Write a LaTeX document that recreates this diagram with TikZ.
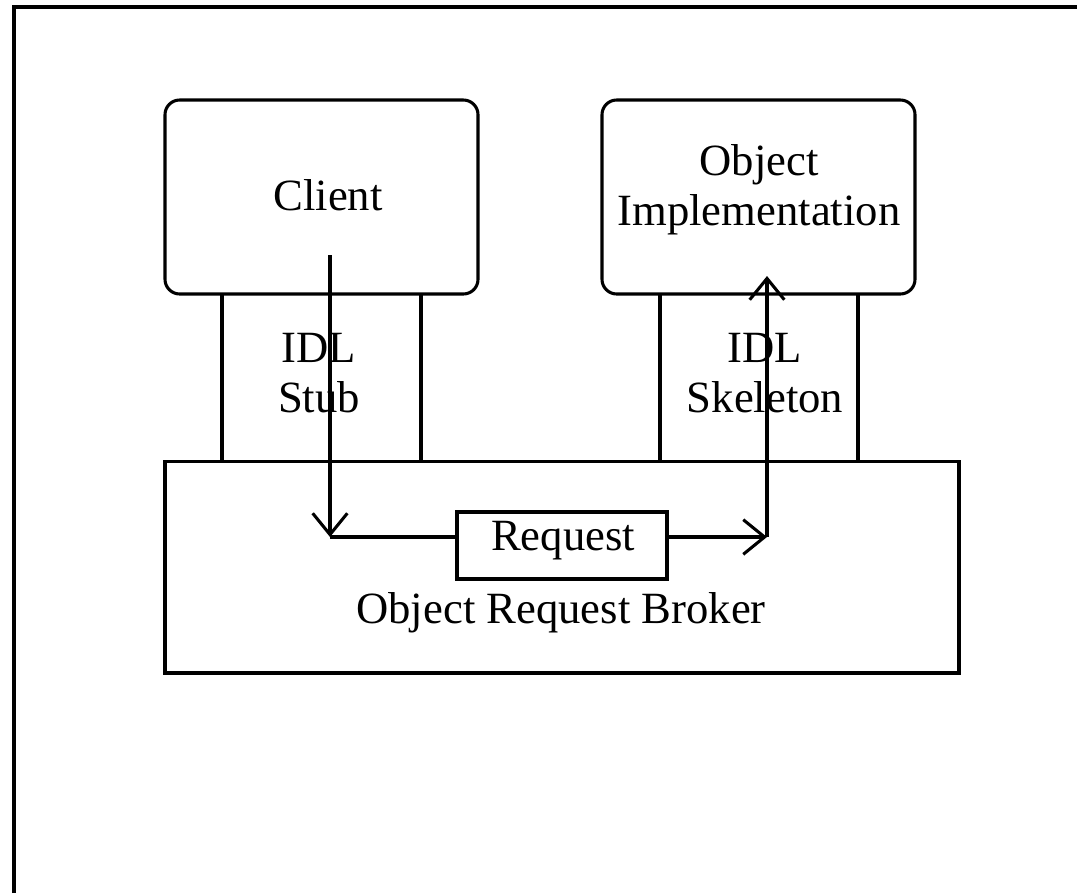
\documentclass[tikz,border=0pt]{standalone}
\usepackage{fontspec}
\setmainfont{Liberation Serif}
\usetikzlibrary{arrows.meta}
\begin{document}
\begin{tikzpicture}[x=0.75pt,y=-0.75pt,
  line width=2.3pt,
  lbl/.style={font=\fontsize{33.5pt}{37.5pt}\selectfont, align=center, inner sep=0pt},
  bigbox/.style={draw, minimum width=313*0.75pt, minimum height=194*0.75pt, rounded corners=11pt, inner sep=0pt},
  arr/.style={-{Straight Barb[length=16pt,width=26pt,line width=2.3pt]}}
]
\useasboundingbox (0,0) rectangle (1077,893);
% outer frame (only top and left edges visible)
\draw[line width=3pt] (14,893) -- (14,7) -- (1077,7);

% main boxes
\node[bigbox] (client) at (321.5,197) {};
\node[lbl] (clientlbl) at (328,195) {Client};
\node[bigbox] (impl) at (758.5,197) {};
\node[lbl] (impllbl) at (759,190) {Object\\Implementation};

\node[draw, line width=2.6pt, minimum width=794*0.75pt, minimum height=211.5*0.75pt, inner sep=0pt] (orb) at (562,567.2) {};
\node[lbl] (orblbl) at (561,613) {Object Request Broker};

\node[draw, line width=2.6pt, minimum width=210*0.75pt, minimum height=67*0.75pt, inner sep=0pt] (req) at (562,545.5) {};
\node[lbl] (reqlbl) at (563,541) {Request};

% stub and skeleton side lines
\coordinate (stubTL) at (222,294);
\coordinate (stubBL) at (222,461.5);
\coordinate (stubTR) at (421,294);
\coordinate (stubBR) at (421,461.5);
\coordinate (skTL) at (660,294);
\coordinate (skBL) at (660,461.5);
\coordinate (skTR) at (858,294);
\coordinate (skBR) at (858,461.5);
\draw (stubTL) -- (stubBL);
\draw (stubTR) -- (stubBR);
\draw (skTL) -- (skBL);
\draw (skTR) -- (skBR);
\node[lbl] (stublbl) at (319,373) {IDL\\Stub};
\node[lbl] (sklbl) at (765,373) {IDL\\Skeleton};

% request flow
\coordinate (cstart) at (330,255);
\coordinate (cdown) at (330,537);
\coordinate (sright) at (767,537);
\coordinate (sup) at (767,276);
\draw[arr] (cstart) -- (cdown);
\draw (cdown) -- (req.west |- cdown);
\draw[arr] (req.east |- sright) -- (sright);
\draw[arr] (sright) -- (sup);
\end{tikzpicture}
\end{document}
